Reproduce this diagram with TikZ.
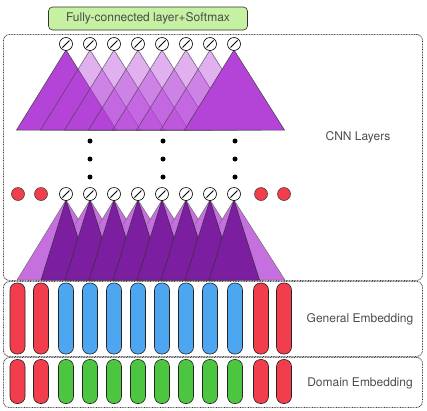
\documentclass[tikz,border=0pt]{standalone}
\usepackage{fontspec}
\setmainfont{TeX Gyre Heros}
\begin{document}
\begin{tikzpicture}[x=1pt,y=-1pt,
  frame/.style={draw=black!75,dash pattern=on 0.8pt off 0.8pt,line width=0.9pt,rounded corners=6pt},
  lbl/.style={text=black!70,font=\fontsize{12}{14}\selectfont},
  topsolid/.style={fill=cnnA,draw=black!75,line width=0.5pt},
  toplight/.style={fill=cnnA,fill opacity=0.42,draw=black!75,draw opacity=0.8,line width=0.5pt},
  lowlight/.style={fill=cnnL,draw=black!60,line width=0.4pt},
  lowdark/.style={fill=cnnD,draw=black!80,line width=0.5pt},
  unit/.style={circle,draw=black,line width=0.6pt,fill=white,minimum size=13pt,inner sep=0pt},
  pad/.style={circle,draw=black!80,line width=0.5pt,fill=redE,minimum size=13pt,inner sep=0pt},
  dotn/.style={circle,fill=black,minimum size=5pt,inner sep=0pt},
  pill/.style={rounded corners=7pt,draw=black!85,line width=0.6pt,minimum width=15pt,inner sep=0pt}]
\definecolor{cnnA}{HTML}{B443D8}
\definecolor{cnnL}{HTML}{C670E0}
\definecolor{cnnD}{HTML}{7C1EA0}
\definecolor{redE}{HTML}{F23E4C}
\definecolor{blueE}{HTML}{4CA6F0}
\definecolor{greenE}{HTML}{4CC640}
\definecolor{fcg}{HTML}{C6F0A2}
\useasboundingbox (0,0) rectangle (427,410);

% frames
\node[frame,minimum width=419pt,minimum height=246pt,anchor=north west] (cnnbox) at (3,34) {};
\node[frame,minimum width=419pt,minimum height=75pt,anchor=north west] (genbox) at (3,281) {};
\node[frame,minimum width=419pt,minimum height=50pt,anchor=north west] (dombox) at (3,357) {};
\node[lbl] (cnnlbl) at (358,137) {CNN Layers};
\node[lbl] (genlbl) at (360,319) {General Embedding};
\node[lbl] (domlbl) at (360,383) {Domain Embedding};

% FC layer
\node[draw=black!80,fill=fcg,rounded corners=4pt,line width=0.6pt,minimum width=199pt,minimum height=23pt,lbl] (fc) at (148,18.5) {Fully-connected layer+Softmax};

% top triangles
\foreach \i in {0,...,7}{
  \pgfmathsetmacro{\cx}{66+24*\i}
  \ifnum\i=0 \def\st{topsolid}\else\ifnum\i=7 \def\st{topsolid}\else\def\st{toplight}\fi\fi
  \path[\st] (\cx,50) -- (\cx-49.5,130) -- (\cx+50.5,130) -- cycle;
}
% top units
\foreach \i in {0,...,7}{
  \node[unit] (t\i) at (66+24*\i,44) {};
  \draw[line width=0.8pt] ([shift={(-3.5,3.5)}]t\i.center) -- ([shift={(3.5,-3.5)}]t\i.center);
}

% dots
\foreach \c/\xx in {a/90,b/163,c/235}{
  \foreach \j/\yy in {1/141,2/159,3/177}{
    \node[dotn] (d\c\j) at (\xx,\yy) {};
  }
}

% lower triangles
\foreach \i in {0,...,7}{
  \pgfmathsetmacro{\cx}{66+24*\i}
  \path[lowlight] (\cx,200) -- (\cx-49,280) -- (\cx+51,280) -- cycle;
}
\foreach \i in {0,...,7}{
  \pgfmathsetmacro{\cx}{66+24*\i}
  \path[lowdark] (\cx,200) -- (\cx-25,280) -- (\cx+25.5,280) -- cycle;
}
% lower units
\foreach \i in {0,...,7}{
  \node[unit] (u\i) at (66+24*\i,194) {};
  \draw[line width=0.8pt] ([shift={(-3.5,3.5)}]u\i.center) -- ([shift={(3.5,-3.5)}]u\i.center);
}
\node[pad] (p1) at (18,194) {};
\node[pad] (p2) at (41,194) {};
\node[pad] (p3) at (261,194) {};
\node[pad] (p4) at (284,194) {};

% embeddings
\foreach \i/\xx in {0/17.5,1/41,2/66,3/90,4/114,5/138,6/162,7/186,8/210,9/235,10/261,11/284}{
  \ifnum\i<2 \def\gc{redE}\def\dc{redE}\else\ifnum\i>9 \def\gc{redE}\def\dc{redE}\else\def\gc{blueE}\def\dc{greenE}\fi\fi
  \node[pill,fill=\gc,minimum height=71pt] (g\i) at (\xx,318.5) {};
  \node[pill,fill=\dc,minimum height=44pt] (e\i) at (\xx,381.5) {};
}
\end{tikzpicture}
\end{document}
